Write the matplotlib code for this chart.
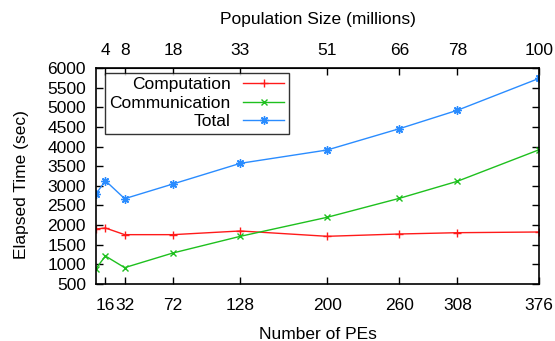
import numpy as np
import matplotlib
matplotlib.use("Agg")
import matplotlib.pyplot as plt

# --------------------------
# Data
# --------------------------
pes = [8, 16, 32, 72, 128, 200, 260, 308, 376]
pe_ticks = [16, 32, 72, 128, 200, 260, 308, 376]
pe_labels = ["16", "32", "72", "128", "200", "260", "308", "376"]
pop_labels = ["4", "8", "18", "33", "51", "66", "78", "100"]

computation = [1900, 1926, 1756, 1756, 1850, 1714, 1773, 1806, 1824]
communication = [882, 1213, 916, 1289, 1714, 2198, 2682, 3115, 3920]
total = [2784, 3131, 2672, 3046, 3573, 3912, 4455, 4923, 5738]

plt.rcParams['font.family'] = ['Liberation Sans', 'DejaVu Sans']
plt.rcParams['font.size'] = 12.5

fig = plt.figure(figsize=(5.55, 3.41), dpi=100)
ax = fig.add_axes([0.1725, 0.1672, 0.7992, 0.6334])

ax.plot(pes, computation, color='#ff1a1a', lw=1, marker='+', ms=6, mew=1, label='Computation')
ax.plot(pes, communication, color='#1ec01e', lw=1, marker='x', ms=5, mew=1, label='Communication')
ax.plot(pes, total, color='#2a8cff', lw=1, marker=(8, 2, 0), ms=6, mew=1, label='Total')

ax.set_xlim(8, 376)
ax.set_ylim(500, 6000)
ax.set_xticks(pe_ticks)
ax.set_xticklabels(pe_labels)
ax.set_yticks(np.arange(500, 6001, 500))
ax.tick_params(direction='in', length=5, width=1, right=True, labelsize=12.5)
ax.tick_params(axis='y', pad=7)
ax.tick_params(axis='x', top=False, pad=10)

# top axis: population size at the same positions
top = ax.secondary_xaxis('top')
top.set_xticks(pe_ticks)
top.set_xticklabels(pop_labels)
top.tick_params(direction='in', length=5, width=1, pad=7, labelsize=12.5)
top.set_xlabel('Population Size (millions)', labelpad=14)

ax.set_xlabel('Number of PEs', labelpad=10)
ax.set_ylabel('Elapsed Time (sec)')
ax.yaxis.set_label_coords(-0.15, 0.46)

for s in ax.spines.values():
    s.set_linewidth(1.2)

leg = ax.legend(loc='upper left', bbox_to_anchor=(0.021, 0.978), markerfirst=False,
                frameon=True, fancybox=False, edgecolor='black', borderpad=0.25,
                handlelength=2.4, labelspacing=0.2, borderaxespad=0, handletextpad=0.7)
leg.get_frame().set_linewidth(1.0)
leg._legend_box.align = 'right'

fig.savefig('out.png', dpi=100)
